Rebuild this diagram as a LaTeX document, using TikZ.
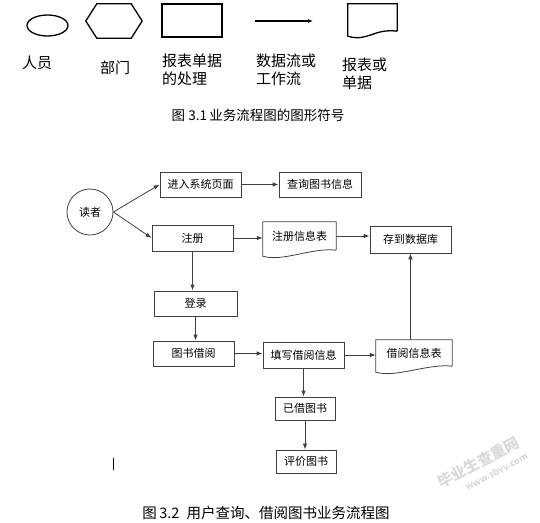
\documentclass[tikz,border=0pt]{standalone}
\usepackage{fontspec}
\setmainfont{Noto Sans CJK SC}
\usepackage{tikz}
\usetikzlibrary{arrows.meta,shapes.geometric}

% paper-like outline: flat top, wavy bottom, left corner lower
\newcommand{\docoutline}[3]{%
  \draw[#3] (#1.south east) -- (#1.north east) -- (#1.north west) -- ([yshift=-#2]#1.south west)
    .. controls +(20,6) and +(-24,-3) .. (#1.south east);}

\begin{document}
\begin{tikzpicture}[x=1pt, y=-1pt,
  >={Latex[length=6pt,width=4.5pt]},
  symline/.style={line width=1.3pt, black},
  symlabel/.style={font=\fontsize{15}{18}\selectfont, align=left, inner sep=0pt},
  flowline/.style={line width=0.8pt, black!75},
  flowbox/.style={draw=black!75, line width=0.8pt, rectangle, inner sep=0pt, font=\fontsize{11}{13}\selectfont},
  flowdoc/.style={rectangle, inner sep=0pt, font=\fontsize{11}{13}\selectfont},
  caption/.style={font=\fontsize{13.5}{15}\selectfont, inner sep=0pt}]

\useasboundingbox (0,0) rectangle (540,522);

% symbol row

\node[draw, symline, ellipse, minimum width=41pt, minimum height=21pt, inner sep=0pt] (person) at (47.5,25.5) {};
\node[minimum width=56pt, minimum height=34pt, inner sep=0pt] (dept) at (114,21) {};
\draw[symline] (dept.west) -- ([xshift=11pt]dept.north west) -- ([xshift=-11pt]dept.north east) -- (dept.east)
  -- ([xshift=-11pt]dept.south east) -- ([xshift=11pt]dept.south west) -- cycle;
\node[draw, symline, rectangle, minimum width=60pt, minimum height=33pt, inner sep=0pt] (proc) at (192,20.5) {};
\coordinate (flowa) at (255,21);
\coordinate (flowb) at (313,21);
\draw[symline, -{Latex[length=5pt,width=4pt]}] (flowa) -- (flowb);
\node[minimum width=49pt, minimum height=27pt, inner sep=0pt] (paper) at (372.5,17.5) {};
\docoutline{paper}{5pt}{symline}

% symbol labels

\node[symlabel] (lperson) at (37,63) {人员};
\node[symlabel] (ldept) at (115,68) {部门};
\node[symlabel, anchor=west] (lproc) at (162,70) {报表单据\\的处理};
\node[symlabel, anchor=west] (lflow) at (256,70) {数据流或\\工作流};
\node[symlabel, anchor=west] (lpaper) at (342,74) {报表或\\单据};

\node[caption] (capa) at (258,115) {图 3.1\,业务流程图的图形符号};

% flow nodes

\node[draw=black!75, line width=0.8pt, circle, minimum size=46pt, inner sep=0pt, font=\fontsize{11}{13}\selectfont] (reader) at (90,212) {读者};

\node[flowbox, minimum width=81pt, minimum height=25pt] (enter) at (200.5,184.5) {进入系统页面};
\node[flowbox, minimum width=82pt, minimum height=25pt] (query) at (320,184.5) {查询图书信息};
\node[flowbox, minimum width=81pt, minimum height=26pt] (reg) at (192.5,238) {注册};
\node[flowdoc, minimum width=73pt, minimum height=28pt] (regtab) at (299.5,236) {注册信息表};
\docoutline{regtab}{6pt}{flowline}
\node[flowbox, minimum width=81pt, minimum height=27pt] (store) at (410.5,239.5) {存到数据库};
\node[flowbox, minimum width=83pt, minimum height=25pt] (login) at (195.5,303.5) {登录};
\node[flowbox, minimum width=81pt, minimum height=25pt] (borrow) at (193.5,353.5) {图书借阅};
\node[flowbox, minimum width=81pt, minimum height=26pt] (fill) at (303.5,355) {填写借阅信息};
\node[flowdoc, minimum width=76pt, minimum height=26pt] (borrowtab) at (414,353) {借阅信息表};
\docoutline{borrowtab}{6pt}{flowline}
\node[flowbox, minimum width=60pt, minimum height=23pt] (borrowed) at (305,408.5) {已借图书};
\node[flowbox, minimum width=60pt, minimum height=23pt] (review) at (306,461.5) {评价图书};

% flow connectors

\draw[flowline, ->] (reader.east) -- (enter.west);
\draw[flowline, ->] (reader.east) -- (reg.west);
\draw[flowline, ->] (enter.east) -- (query.west);
\draw[flowline, ->] (reg.east) -- (reg.east -| regtab.west);
\draw[flowline, ->] (regtab.east) -- (regtab.east -| store.west);
\draw[flowline, ->] (reg.south) -- (reg.south |- login.north);
\draw[flowline, ->] (login.south) -- (login.south |- borrow.north);
\draw[flowline, ->] (borrow.east) -- (borrow.east -| fill.west);
\draw[flowline, ->] (fill.east) -- (fill.east -| borrowtab.west);
\draw[flowline, ->] (borrowtab.north -| store) -- (store.south);
\draw[flowline, ->] (fill.south) -- (fill.south |- borrowed.north);
\draw[flowline, ->] (borrowed.south) -- (borrowed.south |- review.north);

% text cursor mark
\draw[line width=1pt] (113,458) -- (113,470);

\node[caption, font=\fontsize{14.5}{16}\selectfont] (capb) at (266,513) {图\,3.2\enspace 用户查询、借阅图书业务流程图};

% watermark
\node[rotate=28, text=black!15, align=left, inner sep=0pt,
  font=\fontsize{15}{15}\bfseries] (wmark) at (482,468)
  {毕业生查重网\\[-1pt]\hspace*{22pt}\fontsize{9}{9}\selectfont www.sbvv.com};

\end{tikzpicture}
\end{document}
